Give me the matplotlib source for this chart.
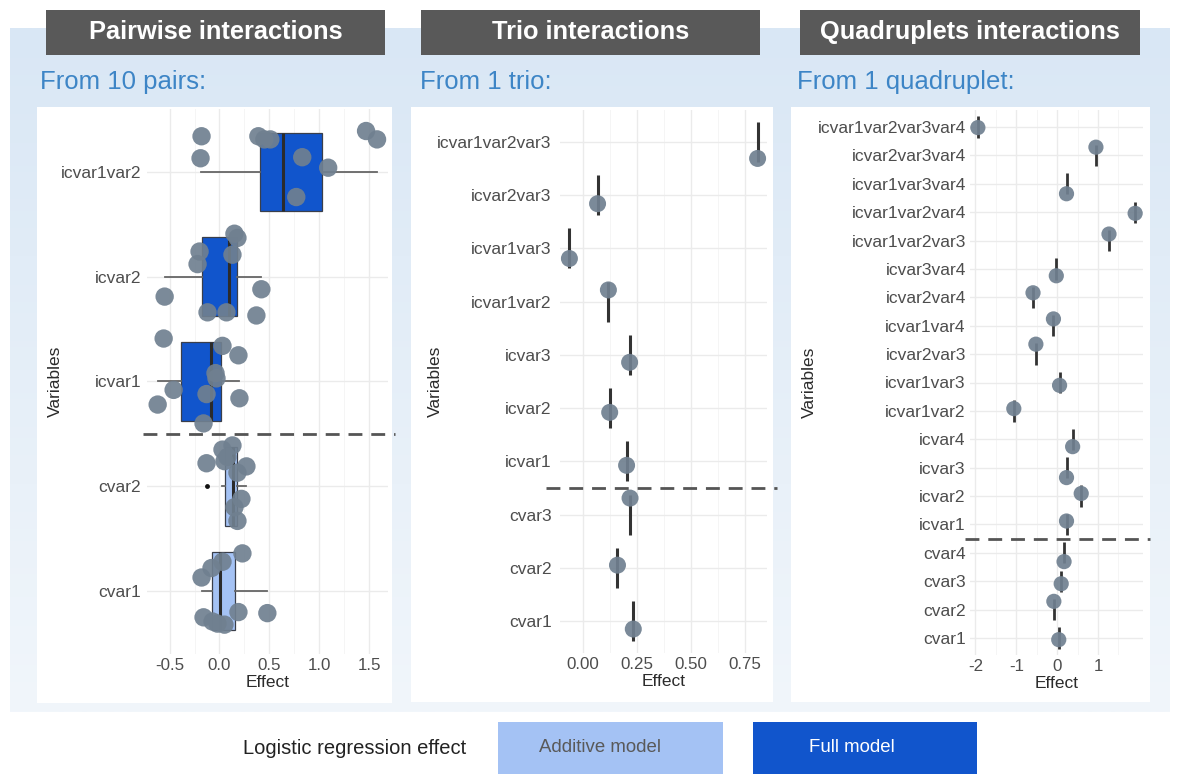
import numpy as np
import matplotlib
matplotlib.use("Agg")
import matplotlib.pyplot as plt
from matplotlib.patches import Rectangle
from matplotlib.colors import LinearSegmentedColormap

plt.rcParams["font.family"] = ["Liberation Sans", "DejaVu Sans"]
plt.rcParams["axes.unicode_minus"] = False

# ---------------- data ----------------
# Pairwise interactions: effects from 10 pairs (bottom-to-top order)
pair_vars = ["cvar1", "cvar2", "icvar1", "icvar2", "icvar1var2"]
pair_is_full = [False, False, True, True, True]
pair_cvar1 = [0.23, 0.03, -0.08, -0.18, 0.19, 0.48, -0.16, -0.07, -0.02, 0.05]
pair_cvar2 = [0.13, 0.03, 0.08, -0.13, 0.27, 0.18, 0.22, 0.15, 0.18, 0.05]
pair_icvar1 = [-0.56, 0.03, 0.19, -0.04, -0.03, -0.46, -0.13, 0.20, -0.62, -0.16]
pair_icvar2 = [0.15, 0.18, -0.20, 0.13, -0.22, -0.55, 0.42, -0.12, 0.07, 0.37]
pair_icvar1var2 = [-0.18, -0.19, 0.39, 0.45, 0.51, 0.83, 1.09, 0.77, 1.47, 1.58]
# vertical jitter of the points (category units)
pair_jit_cvar1 = [0.36, 0.28, 0.22, 0.13, -0.20, -0.21, -0.25, -0.29, -0.31, -0.32]
pair_jit_cvar2 = [0.39, 0.35, 0.28, 0.22, 0.19, 0.13, -0.12, -0.20, -0.33, 0.24]
pair_jit_icvar1 = [0.41, 0.34, 0.25, 0.08, 0.03, -0.08, -0.12, -0.16, -0.22, -0.40]
pair_jit_icvar2 = [0.41, 0.37, 0.24, 0.21, 0.12, -0.19, -0.12, -0.34, -0.34, -0.37]
pair_jit_icvar1var2 = [0.34, 0.13, 0.34, 0.31, 0.31, 0.14, 0.04, -0.24, 0.39, 0.31]

# Trio interactions (bottom-to-top order)
trio_vars = ["cvar1", "cvar2", "cvar3", "icvar1", "icvar2", "icvar3",
             "icvar1var2", "icvar1var3", "icvar2var3", "icvar1var2var3"]
trio_effect = [0.234, 0.161, 0.219, 0.203, 0.125, 0.217, 0.119, -0.061, 0.069, 0.808]
trio_jitter = [-0.15, 0.05, 0.31, -0.075, -0.08, -0.14, 0.22, -0.19, -0.16, -0.31]

# Quadruplet interactions (bottom-to-top order)
quad_vars = ["cvar1", "cvar2", "cvar3", "cvar4", "icvar1", "icvar2", "icvar3", "icvar4",
             "icvar1var2", "icvar1var3", "icvar2var3", "icvar1var4", "icvar2var4",
             "icvar3var4", "icvar1var2var3", "icvar1var2var4", "icvar1var3var4",
             "icvar2var3var4", "icvar1var2var3var4"]
quad_effect = [0.04, -0.08, 0.10, 0.17, 0.23, 0.59, 0.23, 0.38, -1.06, 0.06, -0.52,
               -0.09, -0.59, -0.02, 1.27, 1.91, 0.23, 0.95, -1.94]
quad_jitter = [-0.06, 0.29, -0.09, -0.31, 0.12, 0.09, -0.35, -0.26, 0.08, -0.10, 0.35,
               0.24, 0.16, -0.24, 0.23, -0.04, -0.35, 0.29, -0.02]

panel_titles = ["Pairwise interactions", "Trio interactions", "Quadruplets interactions"]
panel_subtitles = ["From 10 pairs:", "From 1 trio:", "From 1 quadruplet:"]
legend_title = "Logistic regression effect"
legend_labels = ["Additive model", "Full model"]

pair_ticks = [-0.5, 0.0, 0.5, 1.0, 1.5]
pair_ticklabels = ["-0.5", "0.0", "0.5", "1.0", "1.5"]
trio_ticks = [0.0, 0.25, 0.5, 0.75]
trio_ticklabels = ["0.00", "0.25", "0.50", "0.75"]
quad_ticks = [-2, -1, 0, 1]
quad_ticklabels = ["-2", "-1", "0", "1"]

# ---------------- styling ----------------
W, H, DPI = 1177, 774, 100
ADD_COL = "#a4c2f4"
FULL_COL = "#1155cc"
PT_COL = "#708090"
GRID_MAJ = "#ebebeb"
GRID_MIN = "#f5f5f5"
TICK_COL = "#4d4d4d"
TITLE_COL = "#2b2b2b"

fig = plt.figure(figsize=(W / DPI, H / DPI), dpi=DPI)
fig.patch.set_facecolor("white")

# background canvas in pixel coordinates
bg = fig.add_axes([0, 0, 1, 1], zorder=-10)
bg.axis("off")

grad = np.linspace(0, 1, 256).reshape(-1, 1)
cmap = LinearSegmentedColormap.from_list("band", ["#d9e7f5", "#f1f6fb"])
bg.imshow(grad, extent=(10, 1170, 712, 28), aspect="auto", cmap=cmap, zorder=0)
bg.set_xlim(0, W)
bg.set_ylim(H, 0)

# white panels behind each chart
for (l, t, r, b) in [(36.7, 106.7, 391.7, 703), (411, 106.7, 773.3, 701.7), (791, 106.7, 1150, 701.7)]:
    bg.add_patch(Rectangle((l, t), r - l, b - t, fc="white", ec="none", zorder=1))

# title boxes
for (l, r), title in zip([(46, 385), (421, 760), (800, 1140)], panel_titles):
    bg.add_patch(Rectangle((l, 10), r - l, 45, fc="#595959", ec="none", zorder=2))
    bg.text((l + r) / 2, 32, title, color="white", fontsize=18.3, fontweight="bold",
            ha="center", va="center", zorder=3)

for x, sub in zip([40, 420, 797], panel_subtitles):
    bg.text(x, 82, sub, color="#3d85c6", fontsize=18.5, ha="left", va="center", zorder=3)

# legend strip
bg.text(243, 748, legend_title, color="#222222", fontsize=14.5, ha="left", va="center")
bg.add_patch(Rectangle((498, 722), 225, 52, fc=ADD_COL, ec="none"))
bg.text(600, 748, legend_labels[0], color="#595959", fontsize=13.4, ha="center", va="center")
bg.add_patch(Rectangle((753, 722), 224, 52, fc=FULL_COL, ec="none"))
bg.text(852, 748, legend_labels[1], color="white", fontsize=13.4, ha="center", va="center")


def px_axes(l, t, r, b):
    ax = fig.add_axes([l / W, 1 - b / H, (r - l) / W, (b - t) / H])
    ax.set_facecolor("none")
    for s in ax.spines.values():
        s.set_visible(False)
    return ax


def ggplot_xlim(values):
    lo, hi = min(values), max(values)
    pad = 0.05 * (hi - lo)
    return lo - pad, hi + pad


def style_axes(ax, labels, ticks, ticklabels, xlim, ylab_frac, ypad):
    n = len(labels)
    ax.set_yticks(np.arange(1, n + 1))
    ax.set_yticklabels(labels)
    ax.set_xticks(ticks)
    ax.set_xticklabels(ticklabels)
    step = ticks[1] - ticks[0]
    minor = np.arange(ticks[0] - step / 2, ticks[-1] + step, step)
    minor = [m for m in minor if xlim[0] <= m <= xlim[1]]
    ax.set_xticks(minor, minor=True)
    ax.set_xlim(*xlim)
    ax.set_ylim(0.4, n + 0.6)
    ax.tick_params(axis="both", which="both", length=0)
    ax.tick_params(axis="y", pad=ypad, labelsize=12.5, labelcolor=TICK_COL)
    ax.tick_params(axis="x", pad=3, labelsize=12.2, labelcolor=TICK_COL)
    ax.grid(which="major", color=GRID_MAJ, lw=1.0, zorder=0)
    ax.grid(which="minor", axis="x", color=GRID_MIN, lw=0.7, zorder=0)
    ax.set_axisbelow(True)
    ax.set_xlabel("Effect", fontsize=12.5, color=TITLE_COL, labelpad=1)
    ax.set_ylabel("Variables", fontsize=12.5, color=TITLE_COL, va="center")
    ax.yaxis.set_label_coords(ylab_frac, 0.5)


def separator(ax, n_additive, x0, x1):
    ax.axhline(n_additive + 0.5, xmin=x0, xmax=x1, color="#555555", lw=2,
               ls=(0, (5, 3.2)), clip_on=False, zorder=4)


# ---------------- panel 1: pairwise ----------------
ax1 = px_axes(146.7, 109, 388, 654)
pair_values = [pair_cvar1, pair_cvar2, pair_icvar1, pair_icvar2, pair_icvar1var2]
pair_jits = [pair_jit_cvar1, pair_jit_cvar2, pair_jit_icvar1, pair_jit_icvar2, pair_jit_icvar1var2]
pos = np.arange(1, len(pair_vars) + 1)
bp = ax1.boxplot(pair_values, positions=pos, orientation="horizontal", widths=0.75,
                 patch_artist=True, showcaps=False, whis=1.5,
                 boxprops=dict(ec="#3a3f4a", lw=0.9),
                 whiskerprops=dict(color="#666666", lw=1.3),
                 medianprops=dict(color="#2b2b2b", lw=2.2),
                 flierprops=dict(marker="o", ms=3.5, mfc="#111111", mec="none"),
                 zorder=2)
for patch, full in zip(bp["boxes"], pair_is_full):
    patch.set_facecolor(FULL_COL if full else ADD_COL)
for p, vals, jit in zip(pos, pair_values, pair_jits):
    ax1.scatter(vals, p + np.array(jit), s=175, color=PT_COL, alpha=0.92,
                edgecolors="none", zorder=3)
style_axes(ax1, pair_vars, pair_ticks, pair_ticklabels,
           ggplot_xlim(sum(pair_values, [])), -0.38, 4)
separator(ax1, 2, -0.015, 1.03)

# ---------------- panel 2: trio ----------------
ax2 = px_axes(560, 110, 767, 653)
pos2 = np.arange(1, len(trio_vars) + 1)
ax2.vlines(trio_effect, pos2 - 0.375, pos2 + 0.375, color="#333333", lw=2.2, zorder=2)
ax2.scatter(trio_effect, pos2 + np.array(trio_jitter), s=150, color=PT_COL, alpha=0.92,
            edgecolors="none", zorder=3)
style_axes(ax2, trio_vars, trio_ticks, trio_ticklabels, ggplot_xlim(trio_effect), -0.60, 6)
separator(ax2, 3, -0.07, 1.05)

# ---------------- panel 3: quadruplet ----------------
ax3 = px_axes(970, 110, 1143, 655)
pos3 = np.arange(1, len(quad_vars) + 1)
ax3.vlines(quad_effect, pos3 - 0.375, pos3 + 0.375, color="#333333", lw=2.0, zorder=2)
ax3.scatter(quad_effect, pos3 + np.array(quad_jitter), s=120, color=PT_COL, alpha=0.92,
            edgecolors="none", zorder=3)
style_axes(ax3, quad_vars, quad_ticks, quad_ticklabels, ggplot_xlim(quad_effect), -0.93, 3)
separator(ax3, 4, -0.03, 1.04)

fig.savefig("out.png", dpi=DPI)
